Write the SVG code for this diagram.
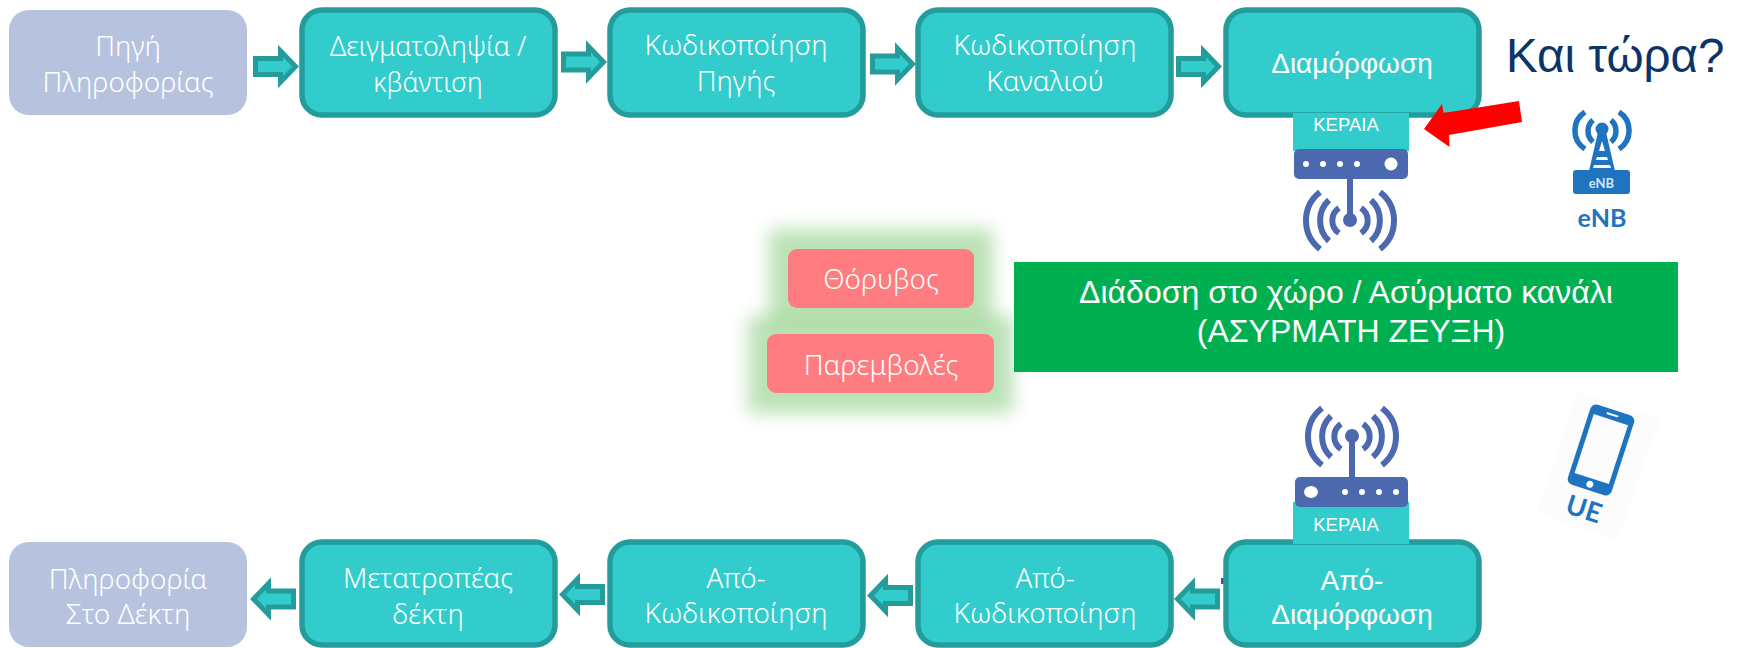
<svg xmlns="http://www.w3.org/2000/svg" xmlns:xlink="http://www.w3.org/1999/xlink" width="1742" height="648" viewBox="0 0 1742 648">
<defs>
<style>
.src{fill:#b7c3de}
.box{fill:#33cccc;stroke:#259c9c;stroke-width:5.5}
.t{font-family:"Noto Sans","Liberation Sans",sans-serif;font-weight:300;font-size:27.8px;fill:#fff;text-anchor:middle}
.s{font-size:26.7px}
.a{font-family:"Liberation Sans",Arial,sans-serif;font-size:28px;fill:#fff;text-anchor:middle}
.c{font-size:32px}
.k{font-family:"Liberation Sans",Arial,sans-serif;font-size:18.5px;fill:#fff;text-anchor:middle}
.conn{fill:#33cccc;stroke:#259c9c;stroke-width:5}
.ant{fill:none;stroke:#4c68ae;stroke-width:6}
.rt{fill:#4c68ae}
.blue{fill:#1f74bf}
.bl{fill:none;stroke:#1f74bf;stroke-width:5.5}
.lbl{font-family:Lato,"Open Sans",sans-serif;font-weight:700;fill:#1f74bf;text-anchor:middle}
.red{fill:#ff7c80}
.gl{fill:#8fce86;fill-opacity:.6}
</style>
<filter id="glow" x="-30%" y="-60%" width="160%" height="220%"><feGaussianBlur stdDeviation="8.5"/></filter>
<path id="ar" d="M-43.5 -8H-18.5V-15.5L-3.5 0L-18.5 15.5V8H-43.5Z"/>
<g id="wave"><path class="ant" d="M1339 208a15 15 0 0 0 0 25M1361 208a15 15 0 0 1 0 25M1329 200a28 28 0 0 0 0 41M1371 200a28 28 0 0 1 0 41M1320 192a36 36 0 0 0 0 57M1380 192a36 36 0 0 1 0 57"/><circle class="rt" cx="1350" cy="220" r="7"/></g>
</defs>
<g id="connectors">
<use href="#ar" class="conn" transform="translate(299 66.5)"/>
<use href="#ar" class="conn" transform="translate(607 62)"/>
<use href="#ar" class="conn" transform="translate(916 64)"/>
<use href="#ar" class="conn" transform="translate(1222 66.5)"/>
<use href="#ar" class="conn" transform="translate(1174 599) scale(-1 1)"/>
<use href="#ar" class="conn" transform="translate(867 595.5) scale(-1 1)"/>
<use href="#ar" class="conn" transform="translate(559 594.5) scale(-1 1)"/>
<use href="#ar" class="conn" transform="translate(250 599) scale(-1 1)"/>
</g>
<g id="src1"><rect class="src" x="9" y="10" width="238" height="105" rx="20"/><text class="t"><tspan x="128" y="56">Πηγή</tspan><tspan x="128" y="92">Πληροφορίας</tspan></text></g>
<g id="n2"><rect class="box" x="302" y="10" width="253" height="105" rx="20"/><text class="t s"><tspan x="428" y="56">Δειγματοληψία /</tspan><tspan x="428" y="92">κβάντιση</tspan></text></g>
<g id="n3"><rect class="box" x="610" y="10" width="253" height="105" rx="20"/><text class="t"><tspan x="736" y="55">Κωδικοποίηση</tspan><tspan x="736" y="91">Πηγής</tspan></text></g>
<g id="n4"><rect class="box" x="918" y="10" width="253" height="105" rx="20"/><text class="t"><tspan x="1045" y="55">Κωδικοποίηση</tspan><tspan x="1045" y="91">Καναλιού</tspan></text></g>
<g id="n5"><rect class="box" x="1226" y="10" width="253" height="105" rx="20"/><text class="a" x="1352" y="73">Διαμόρφωση</text></g>
<g id="ant-tx">
<rect x="1293" y="113" width="116" height="38" fill="#33cccc"/><text class="k" x="1346" y="131">ΚΕΡΑΙΑ</text>
<rect class="rt" x="1294" y="149" width="114" height="30" rx="5"/>
<g fill="#fff"><circle cx="1306" cy="164" r="3"/><circle cx="1323" cy="164" r="3"/><circle cx="1340" cy="164" r="3"/><circle cx="1357" cy="164" r="3"/><circle cx="1391" cy="164" r="6.5"/></g>
<path d="M1350 179v40" stroke="#4c68ae" stroke-width="6"/>
<use href="#wave"/>
</g>
<g id="red-arrow"><path fill="#ff0000" d="M1424 129L1442 104L1443.5 113L1519 101L1522 122L1449 135L1449.5 147z"/></g>
<text x="1506" y="72" font-family="'Liberation Sans',Arial,sans-serif" font-size="47.5" fill="#0b3568">Και τώρα?</text>
<g id="enb">
<path class="bl" d="M1593 120a14.6 14.6 0 0 0 0 22M1611 120a14.6 14.6 0 0 1 0 22M1585 112a22 22 0 0 0 0 37M1619 112a22 22 0 0 1 0 37"/>
<circle class="blue" cx="1602" cy="129" r="6.5"/>
<path class="blue" d="M1598 132L1589 171H1615L1606 132Z"/>
<path fill="#fff" d="M1602 141l-3 10h6zM1597 157h10l1 3h-12zM1594 165h16l1 3h-18z"/>
<rect class="blue" x="1573" y="170" width="57" height="24" rx="3"/>
<text x="1601.5" y="188" font-family="Lato,'Open Sans',sans-serif" font-weight="700" font-size="13" fill="#d5e6f5" text-anchor="middle">eNB</text>
<text class="lbl" x="1602" y="227" font-size="25">eNB</text>
</g>
<g id="noise-glow" filter="url(#glow)"><rect class="gl" x="769" y="229" width="224" height="97"/></g>
<g id="interf-glow" filter="url(#glow)"><rect class="gl" x="748" y="316" width="265" height="97"/></g>
<g id="noise"><rect class="red" x="788" y="249" width="186" height="59" rx="9"/><text class="t" x="881" y="289">Θόρυβος</text></g>
<g id="interf"><rect class="red" x="767" y="334" width="227" height="59" rx="9"/><text class="t" x="881" y="375">Παρεμβολές</text></g>
<g id="channel"><rect x="1014" y="262" width="664" height="110" fill="#00b050"/><text class="a c"><tspan x="1346" y="303">Διάδοση στο χώρο / Ασύρματο κανάλι</tspan><tspan x="1351" y="342">(ΑΣΥΡΜΑΤΗ ΖΕΥΞΗ)</tspan></text></g>
<g id="ue">
<path fill="#fcfcfc" d="M1577 390L1660 420L1617 540L1537 512z"/>
<g transform="rotate(18 1601 450)"><rect class="blue" x="1578" y="408" width="46" height="84" rx="6"/><rect x="1583" y="418" width="36" height="62" fill="#fcfcfc"/><circle cx="1601" cy="486" r="3.5" fill="#fcfcfc"/><rect x="1595" y="412" width="12" height="2" fill="#fcfcfc"/></g>
<text class="lbl" font-size="27" transform="translate(1581 518) rotate(18)">UE</text>
</g>
<path id="mark" d="M1221 578h3v6h-3z" fill="#3d5a8c"/>
<g id="ant-rx-base"><rect x="1293" y="502" width="116" height="42" fill="#33cccc"/></g>
<g id="d5"><rect class="box" x="1226" y="542" width="253" height="103" rx="20"/><rect x="1293" y="536" width="116" height="8" fill="#33cccc"/><text class="a"><tspan x="1352" y="590">Από-</tspan><tspan x="1352" y="624">Διαμόρφωση</tspan></text></g>
<g id="ant-rx">
<text class="k" x="1346" y="531">ΚΕΡΑΙΑ</text>
<rect class="rt" x="1295" y="477" width="113" height="30" rx="5"/>
<g fill="#fff"><ellipse cx="1311" cy="492" rx="7" ry="6"/><circle cx="1345" cy="492" r="3"/><circle cx="1362" cy="492" r="3"/><circle cx="1379" cy="492" r="3"/><circle cx="1396" cy="492" r="3"/></g>
<path d="M1352 477v-40" stroke="#4c68ae" stroke-width="6"/>
<use href="#wave" transform="translate(2 216)"/>
</g>
<g id="d4"><rect class="box" x="918" y="542" width="253" height="103" rx="20"/><text class="t"><tspan x="1045" y="588">Από-</tspan><tspan x="1045" y="623">Κωδικοποίηση</tspan></text></g>
<g id="d3"><rect class="box" x="610" y="542" width="253" height="103" rx="20"/><text class="t"><tspan x="736" y="588">Από-</tspan><tspan x="736" y="623">Κωδικοποίηση</tspan></text></g>
<g id="d2"><rect class="box" x="302" y="542" width="253" height="103" rx="20"/><text class="t"><tspan x="428" y="588">Μετατροπέας</tspan><tspan x="428" y="624">δέκτη</tspan></text></g>
<g id="dst"><rect class="src" x="9" y="542" width="238" height="105" rx="20"/><text class="t"><tspan x="128" y="589">Πληροφορία</tspan><tspan x="128" y="624">Στο Δέκτη</tspan></text></g>
</svg>
